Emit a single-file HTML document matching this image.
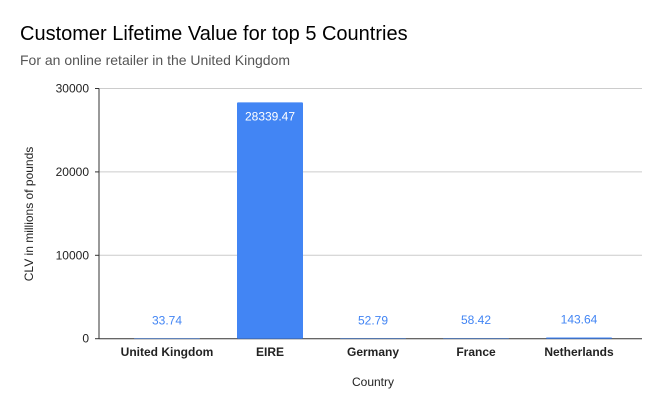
<!DOCTYPE html>
<html><head><meta charset="utf-8"><style>
body{margin:0;background:#fff;}
svg{display:block;font-family:"Liberation Sans",Arial,sans-serif;}
</style></head><body>
<svg id="chart" width="667" height="412" viewBox="0 0 667 412">
<text x="20" y="40" font-size="20" fill="#000">Customer Lifetime Value for top 5 Countries</text>
<text x="20" y="65" font-size="14" fill="#555">For an online retailer in the United Kingdom</text>
<text transform="translate(33,214) rotate(-90)" text-anchor="middle" font-size="12" fill="#222">CLV in millions of pounds</text>
<text x="373" y="386" text-anchor="middle" font-size="12" fill="#222">Country</text>
<g id="grid"></g><g id="bars"></g><g id="labels"></g>
</svg>
<script>
const categories=["United Kingdom","EIRE","Germany","France","Netherlands"];
const values=[33.74,28339.47,52.79,58.42,143.64];
const valueLabels=["33.74","28339.47","52.79","58.42","143.64"];
const yTicks=[0,10000,20000,30000];
const yMax=30000;
const NS="http://www.w3.org/2000/svg";
const plotL=99,plotR=642,plotT=88.5,plotB=338.7;
function y(v){return plotB-(v/yMax)*(plotB-plotT);}
function xc(i){return 167+i*103;}
const barW=66;
function mk(tag,attrs,parent){const e=document.createElementNS(NS,tag);for(const k in attrs)e.setAttribute(k,attrs[k]);parent.appendChild(e);return e;}
const grid=document.getElementById('grid'),bars=document.getElementById('bars'),labels=document.getElementById('labels');
yTicks.forEach(t=>{
  const gl=mk('line',{x1:plotL,x2:plotR,y1:y(t),y2:y(t),stroke:t===0?'#333':'#ccc','stroke-width':1},grid);
  
  
  const tk=mk('line',{x1:plotL-4,x2:plotL,y1:y(t),y2:y(t),stroke:'#333'},grid);
  
  
  const tl=mk('text',{x:plotL-10,y:y(t)+4,'text-anchor':'end','font-size':12,fill:'#222'},grid);
  tl.textContent=t;
  
  
});
const ax=mk('line',{x1:plotL,x2:plotL,y1:plotT,y2:plotB,stroke:'#333'},grid);


categories.forEach((c,i)=>{
  const top=y(values[i]);
  const b=mk('rect',{x:xc(i)-barW/2,y:top,width:barW,height:Math.max(plotB-top,0.5),fill:'#4285f4',rx:1},bars);
  
  
  const inside=(plotB-top)>30;
  const vl=mk('text',{x:xc(i),y:inside?top+18:Math.min(top,plotB)-14,'text-anchor':'middle','font-size':12,fill:inside?'#fff':'#4285f4'},labels);
  vl.textContent=valueLabels[i];
  
  
  const cl=mk('text',{x:xc(i),y:356,'text-anchor':'middle','font-size':12,'font-weight':'bold',fill:'#222'},labels);
  cl.textContent=c;
  
  
});
</script>
</body></html>
